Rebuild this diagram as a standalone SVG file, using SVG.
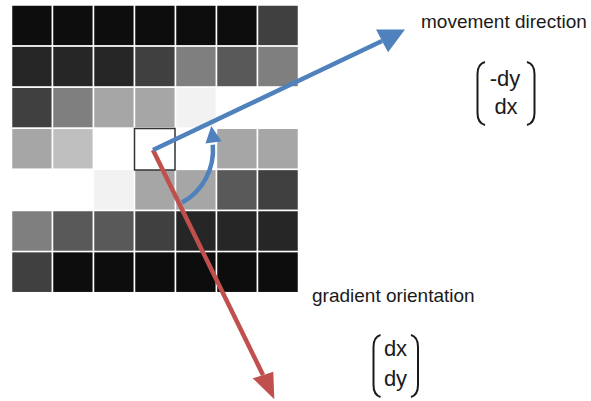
<svg xmlns="http://www.w3.org/2000/svg" width="591" height="401" viewBox="0 0 591 401">
<style>
.c{stroke:#ffffff;stroke-width:1.5}
.k0{fill:#0d0d0d}.k1{fill:#262626}.k2{fill:#404040}.k3{fill:#595959}.k4{fill:#7f7f7f}.k5{fill:#a6a6a6}.k6{fill:#bfbfbf}.k7{fill:#f2f2f2}.k8{fill:#ffffff}
.lbl{font-family:"Liberation Sans",Arial,sans-serif;font-size:19px;fill:#1a1a1a}
.mx{font-family:"Liberation Sans",Arial,sans-serif;font-size:22px;fill:#1a1a1a;text-anchor:middle}
.par{fill:none;stroke:#1a1a1a;stroke-width:2}
.blue{stroke:#4f81bd;stroke-width:4.5;fill:none}
.red{stroke:#c0504d;stroke-width:4.5;fill:none}
</style>
<rect width="591" height="401" fill="#ffffff"/>
<g id="grid">
<rect class="c k0" x="11.5" y="5" width="41" height="41.1"/><rect class="c k0" x="52.5" y="5" width="41" height="41.1"/><rect class="c k0" x="93.5" y="5" width="41" height="41.1"/><rect class="c k0" x="134.5" y="5" width="41" height="41.1"/><rect class="c k0" x="175.5" y="5" width="41" height="41.1"/><rect class="c k0" x="216.5" y="5" width="41" height="41.1"/><rect class="c k2" x="257.5" y="5" width="41" height="41.1"/>
<rect class="c k1" x="11.5" y="46.1" width="41" height="41.1"/><rect class="c k1" x="52.5" y="46.1" width="41" height="41.1"/><rect class="c k1" x="93.5" y="46.1" width="41" height="41.1"/><rect class="c k2" x="134.5" y="46.1" width="41" height="41.1"/><rect class="c k4" x="175.5" y="46.1" width="41" height="41.1"/><rect class="c k3" x="216.5" y="46.1" width="41" height="41.1"/><rect class="c k4" x="257.5" y="46.1" width="41" height="41.1"/>
<rect class="c k2" x="11.5" y="87.2" width="41" height="41.1"/><rect class="c k4" x="52.5" y="87.2" width="41" height="41.1"/><rect class="c k5" x="93.5" y="87.2" width="41" height="41.1"/><rect class="c k5" x="134.5" y="87.2" width="41" height="41.1"/><rect class="c k7" x="175.5" y="87.2" width="41" height="41.1"/><rect class="c k8" x="216.5" y="87.2" width="41" height="41.1"/><rect class="c k8" x="257.5" y="87.2" width="41" height="41.1"/>
<rect class="c k5" x="11.5" y="128.3" width="41" height="41.1"/><rect class="c k6" x="52.5" y="128.3" width="41" height="41.1"/><rect class="c k8" x="93.5" y="128.3" width="41" height="41.1"/><rect class="c k8" x="134.5" y="128.3" width="41" height="41.1"/><rect class="c k8" x="175.5" y="128.3" width="41" height="41.1"/><rect class="c k5" x="216.5" y="128.3" width="41" height="41.1"/><rect class="c k5" x="257.5" y="128.3" width="41" height="41.1"/>
<rect class="c k8" x="11.5" y="169.4" width="41" height="41.1"/><rect class="c k8" x="52.5" y="169.4" width="41" height="41.1"/><rect class="c k7" x="93.5" y="169.4" width="41" height="41.1"/><rect class="c k5" x="134.5" y="169.4" width="41" height="41.1"/><rect class="c k5" x="175.5" y="169.4" width="41" height="41.1"/><rect class="c k3" x="216.5" y="169.4" width="41" height="41.1"/><rect class="c k2" x="257.5" y="169.4" width="41" height="41.1"/>
<rect class="c k4" x="11.5" y="210.5" width="41" height="41.1"/><rect class="c k3" x="52.5" y="210.5" width="41" height="41.1"/><rect class="c k3" x="93.5" y="210.5" width="41" height="41.1"/><rect class="c k2" x="134.5" y="210.5" width="41" height="41.1"/><rect class="c k1" x="175.5" y="210.5" width="41" height="41.1"/><rect class="c k1" x="216.5" y="210.5" width="41" height="41.1"/><rect class="c k1" x="257.5" y="210.5" width="41" height="41.1"/>
<rect class="c k2" x="11.5" y="251.6" width="41" height="41.1"/><rect class="c k0" x="52.5" y="251.6" width="41" height="41.1"/><rect class="c k0" x="93.5" y="251.6" width="41" height="41.1"/><rect class="c k0" x="134.5" y="251.6" width="41" height="41.1"/><rect class="c k0" x="175.5" y="251.6" width="41" height="41.1"/><rect class="c k0" x="216.5" y="251.6" width="41" height="41.1"/><rect class="c k0" x="257.5" y="251.6" width="41" height="41.1"/>
</g>
<g id="center-pixel">
<rect x="134.5" y="128.5" width="40.5" height="41.5" fill="#ffffff" stroke="#333333" stroke-width="1.5"/>
</g>
<g id="connectors">
<g id="gradient-arrow">
<line class="red" x1="153" y1="150" x2="263" y2="375"/>
<polygon points="252.7,378.3 273.3,371.7 274.3,399.3" fill="#c0504d"/>
</g>
<g id="movement-arrow">
<line class="blue" x1="153" y1="150" x2="382" y2="41"/>
<polygon points="376,29.5 405,29.5 388,52.3" fill="#4f81bd"/>
</g>
<g id="rotation-arc">
<path class="blue" d="M182.1,202.5 A60,60 0 0 0 212.8,144.8"/>
<polygon points="211.3,126 205.5,143.5 221.5,141.3" fill="#4f81bd"/>
</g>
</g>
<g id="movement-label">
<text class="lbl" x="421" y="28">movement direction</text>
<path class="par" d="M485,62 Q477.5,64 477.5,74 L477.5,113 Q477.5,123 485,125"/>
<path class="par" d="M527,62 Q534.5,64 534.5,74 L534.5,113 Q534.5,123 527,125"/>
<text class="mx" x="505" y="86">-dy</text>
<text class="mx" x="506" y="114">dx</text>
</g>
<g id="gradient-label">
<text class="lbl" x="312" y="302">gradient orientation</text>
<path class="par" d="M380.5,335 Q373.5,337 373.5,347 L373.5,385 Q373.5,395 380.5,397"/>
<path class="par" d="M411,335 Q418,337 418,347 L418,385 Q418,395 411,397"/>
<text class="mx" x="395.5" y="356">dx</text>
<text class="mx" x="395.5" y="386">dy</text>
</g>
</svg>
